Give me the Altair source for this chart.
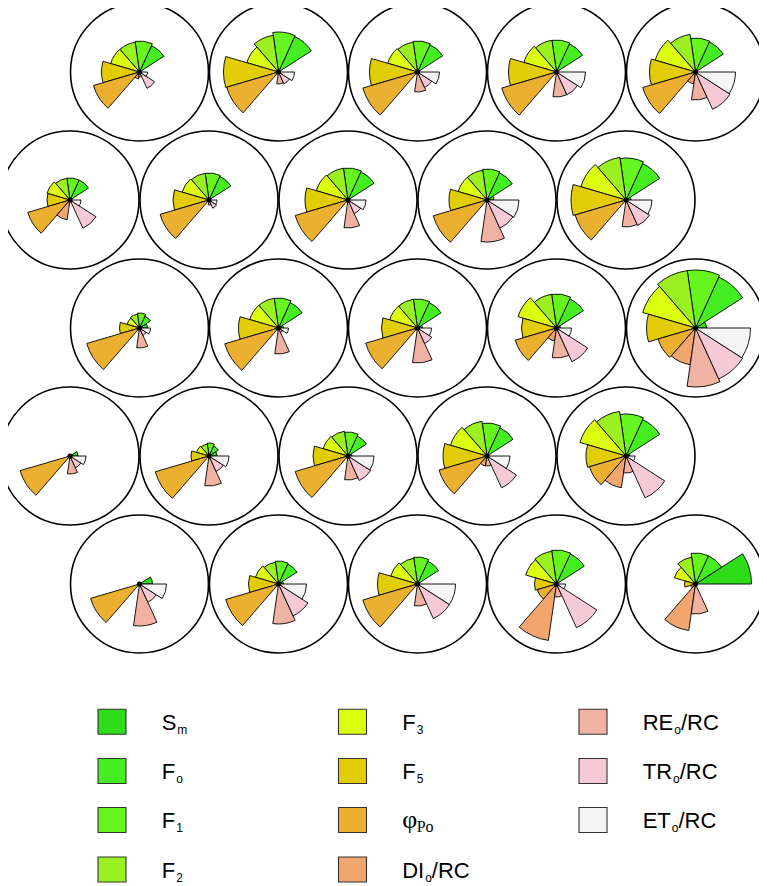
import math
import altair as alt
import pandas as pd

# ---------------- data ----------------
params = ["Sm", "Fo", "F1", "F2", "F3", "F5", "PhiPo", "DIo/RC", "REo/RC", "TRo/RC", "ETo/RC"]
colors = ["#2fdc1a", "#44ee22", "#66f51e", "#9af020", "#dcff10", "#e2cc06",
          "#ebb030", "#f0a66e", "#f0b2a2", "#f5c9d6", "#f5f5f5"]

# wedge length per parameter (order of params), one list per sample, rows top to bottom
row1 = [
    [0, 29, 31, 30, 30, 38, 48, 7, 5, 18, 8],
    [0, 39, 40, 37, 33, 55, 54, 0, 12, 13, 16],
    [0, 30, 31, 30, 31, 48, 57, 0, 20, 17, 22],
    [0, 31, 32, 32, 34, 48, 57, 0, 25, 25, 29],
    [0, 33, 34, 38, 42, 46, 55, 12, 28, 41, 40],
]
row2 = [
    [0, 22, 22, 22, 24, 23, 44, 20, 0, 31, 11],
    [0, 26, 27, 27, 28, 36, 51, 0, 5, 9, 8],
    [0, 31, 32, 32, 33, 43, 55, 0, 28, 15, 18],
    [7, 30, 31, 30, 30, 38, 56, 0, 42, 31, 32],
    [5, 40, 42, 43, 47, 55, 53, 0, 27, 28, 26],
]
row3 = [
    [8, 13, 15, 14, 13, 20, 55, 0, 20, 8, 11],
    [5, 28, 30, 30, 30, 40, 56, 0, 26, 5, 10],
    [5, 28, 29, 29, 29, 36, 54, 0, 35, 17, 14],
    [4, 32, 34, 34, 40, 35, 43, 13, 30, 37, 15],
    [11, 56, 58, 58, 55, 49, 39, 37, 59, 56, 55],
]
row4 = [
    [8, 0, 0, 0, 0, 0, 52, 0, 18, 13, 16],
    [8, 11, 13, 12, 13, 18, 56, 0, 30, 17, 20],
    [4, 22, 24, 25, 26, 35, 55, 0, 24, 27, 26],
    [0, 31, 33, 35, 38, 44, 50, 10, 10, 35, 23],
    [4, 40, 42, 45, 48, 40, 38, 32, 17, 46, 9],
]
row5 = [
    [13, 0, 0, 0, 0, 0, 51, 0, 42, 20, 27],
    [5, 22, 23, 22, 24, 30, 55, 0, 40, 35, 28],
    [0, 25, 27, 26, 28, 40, 57, 0, 22, 38, 38],
    [0, 33, 34, 33, 32, 22, 20, 57, 13, 48, 9],
    [56, 31, 31, 27, 22, 11, 5, 47, 30, 0, 0],
]
rows = [row1, row2, row3, row4, row5]

# legend: (column, row, pieces) ; piece kinds: main / sub / serif / serifsub
legend_items = [
    (0, 0, [("S", "main"), ("m", "sub")]),
    (0, 1, [("F", "main"), ("o", "sub")]),
    (0, 2, [("F", "main"), ("1", "sub")]),
    (0, 3, [("F", "main"), ("2", "sub")]),
    (1, 0, [("F", "main"), ("3", "sub")]),
    (1, 1, [("F", "main"), ("5", "sub")]),
    (1, 2, [("φ", "serif"), ("Po", "serifsub")]),
    (1, 3, [("DI", "main"), ("o", "sub"), ("/RC", "main")]),
    (2, 0, [("RE", "main"), ("o", "sub"), ("/RC", "main")]),
    (2, 1, [("TR", "main"), ("o", "sub"), ("/RC", "main")]),
    (2, 2, [("ET", "main"), ("o", "sub"), ("/RC", "main")]),
]

# ---------------- build tables ----------------
N = len(params)
step = 2 * math.pi / N
wedge_recs, centre_recs = [], []
for r, row in enumerate(rows):
    for c, vals in enumerate(row):
        xpos = c + (0.5 if r % 2 == 0 else 0.0)
        centre_recs.append({"xpos": xpos, "ypos": r})
        for i, v in enumerate(vals):
            k = N - 1 - i
            t1 = math.pi / 2 + k * step
            wedge_recs.append({"xpos": xpos, "ypos": r, "param": params[i],
                               "t1": t1, "t2": t1 + step, "value": v})
wdf = pd.DataFrame(wedge_recs)
cdf = pd.DataFrame(centre_recs)

SANS = "Liberation Sans"
SERIF = "Liberation Serif"
MAIN_FS, SUB_FS, SERIF_FS, SERIFSUB_FS = 22, 12, 26, 16
arial = {"S": .667, "F": .611, "D": .722, "I": .278, "R": .722, "E": .667, "T": .611,
         "C": .722, "/": .278, "o": .556, "m": .833, "1": .556, "2": .556, "3": .556, "5": .556}
times = {"φ": .52, "P": .556, "o": .5}

def width(txt, kind):
    if kind == "main":
        return sum(arial[ch] for ch in txt) * MAIN_FS
    if kind == "sub":
        return sum(arial[ch] for ch in txt) * SUB_FS
    if kind == "serif":
        return sum(times[ch] for ch in txt) * SERIF_FS
    return sum(times[ch] for ch in txt) * SERIFSUB_FS

# legend layout in pixels of the plot area
LCOL_X = [104, 344.5, 585]
LROW_Y = [713.7, 763, 812, 861.5]
TEXT_GAP = 49.7

sq_recs, txt_recs = [], []
for (lc, lr, pieces), p in zip(legend_items, params):
    cx, cy = LCOL_X[lc], LROW_Y[lr]
    sq_recs.append({"lx": cx, "ly": cy, "param": p})
    x = cx + TEXT_GAP
    base = cy + 8
    for txt, kind in pieces:
        if kind in ("sub", "serifsub"):
            txt_recs.append({"lx": x + 1, "ly": base + 4, "t": txt, "kind": kind})
            x += width(txt, kind) + 1
        else:
            txt_recs.append({"lx": x, "ly": base, "t": txt, "kind": kind})
            x += width(txt, kind)
sqdf = pd.DataFrame(sq_recs)
tdf = pd.DataFrame(txt_recs)

# ---------------- chart ----------------
W, H = 751, 878
xs = alt.Scale(domain=[-62 / 139, (W - 62) / 139], range=[0, W])
ys = alt.Scale(domain=[-0.5, -0.5 + H / 128], range=[0, H])
px_x = alt.Scale(domain=[0, W], range=[0, W])
px_y = alt.Scale(domain=[0, H], range=[0, H])
fill_scale = alt.Scale(domain=params, range=colors)

X = alt.X("xpos:Q", scale=xs, axis=None)
Y = alt.Y("ypos:Q", scale=ys, axis=None)

circles = alt.Chart(cdf).mark_point(
    shape="circle", filled=False, stroke="black", strokeWidth=1.6,
    size=138 * 138, opacity=1
).encode(x=X, y=Y)

wedges = alt.Chart(wdf).transform_filter("datum.value > 0").mark_arc(
    stroke="black", strokeWidth=0.9, strokeJoin="round"
).encode(
    x=X, y=Y,
    theta=alt.Theta("t1:Q", scale=None),
    theta2="t2:Q",
    radius=alt.Radius("value:Q", scale=alt.Scale(type="linear", domain=[0, 70], range=[0, 70], zero=True)),
    fill=alt.Fill("param:N", scale=fill_scale, legend=None),
)

dots = alt.Chart(cdf).mark_point(
    shape="circle", filled=True, color="black", size=26, opacity=1
).encode(x=X, y=Y)

LX = alt.X("lx:Q", scale=px_x, axis=None)
LY = alt.Y("ly:Q", scale=px_y, axis=None)

squares = alt.Chart(sqdf).mark_point(
    shape="M-1.077,-0.96L1.077,-0.96L1.077,0.96L-1.077,0.96Z",
    filled=True, stroke="#333333", strokeWidth=1.1, size=676, opacity=1
).encode(x=LX, y=LY, fill=alt.Fill("param:N", scale=fill_scale, legend=None))

def text_layer(kind, font, fs):
    return alt.Chart(tdf).transform_filter(f"datum.kind == '{kind}'").mark_text(
        font=font, fontSize=fs, align="left", baseline="alphabetic", color="black"
    ).encode(x=LX, y=LY, text="t:N")

chart = alt.layer(
    circles, wedges, dots, squares,
    text_layer("main", SANS, MAIN_FS),
    text_layer("sub", SANS, SUB_FS),
    text_layer("serif", SERIF, SERIF_FS),
    text_layer("serifsub", SERIF, SERIFSUB_FS),
).resolve_scale(x="independent", y="independent", fill="shared").properties(
    width=W, height=H, padding=0, autosize=alt.AutoSizeParams(type="none")
).configure_view(stroke=None)

chart.save("out.html", embed_options={"renderer": "svg", "actions": False})
